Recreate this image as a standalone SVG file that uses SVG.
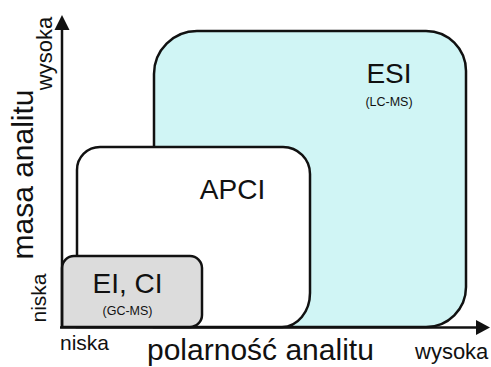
<svg xmlns="http://www.w3.org/2000/svg" width="491" height="367" viewBox="0 0 491 367">
  <style>
    .t { font-family: "Liberation Sans", Arial, sans-serif; fill: #111; }
    .box { stroke: #111; stroke-width: 2.5; }
    .axis { stroke: #111; stroke-width: 2.5; fill: none; }
  </style>
  <rect width="491" height="367" fill="#ffffff"/>
  <g id="esi">
    <path class="box" fill="#d0f5f5" d="M154,327 V74 A43,43 0 0 1 197,31 H426 A40,40 0 0 1 466,71 V287 A40,40 0 0 1 426,327 Z"/>
    <text class="t" x="389" y="83" font-size="28" text-anchor="middle">ESI</text>
    <text class="t" x="389" y="106" font-size="12.5" text-anchor="middle">(LC-MS)</text>
  </g>
  <g id="apci">
    <path class="box" fill="#ffffff" d="M77,327 V170 A23,23 0 0 1 100,147 H283 A27,27 0 0 1 310,174 V293 A28,34 0 0 1 282,327 Z"/>
    <text class="t" x="232.5" y="199" font-size="28" text-anchor="middle">APCI</text>
  </g>
  <g id="eici">
    <path class="box" fill="#dcdcdc" d="M62,327 V268 A12,12 0 0 1 74,256 H190 A12,12 0 0 1 202,268 V315 A12,12 0 0 1 190,327 Z"/>
    <text class="t" x="127.5" y="293" font-size="28" text-anchor="middle">EI, CI</text>
    <text class="t" x="127.5" y="315" font-size="12.5" text-anchor="middle">(GC-MS)</text>
  </g>
  <g id="axes">
    <path class="axis" d="M62,328 V28"/>
    <polygon points="62,15 54.5,30 69.5,30" fill="#111"/>
    <path class="axis" d="M60,327.5 H478"/>
    <polygon points="490,327.5 476,320 476,335" fill="#111"/>
  </g>
  <g id="labels">
    <text class="t" font-size="30" text-anchor="middle" transform="translate(33,174.5) rotate(-90)">masa analitu</text>
    <text class="t" font-size="22" text-anchor="middle" transform="translate(52,53.5) rotate(-90)">wysoka</text>
    <text class="t" font-size="21" text-anchor="middle" transform="translate(46,298) rotate(-90)">niska</text>
    <text class="t" x="60" y="350" font-size="21">niska</text>
    <text class="t" x="147" y="360" font-size="30">polarność analitu</text>
    <text class="t" x="415" y="359" font-size="22">wysoka</text>
  </g>
</svg>
